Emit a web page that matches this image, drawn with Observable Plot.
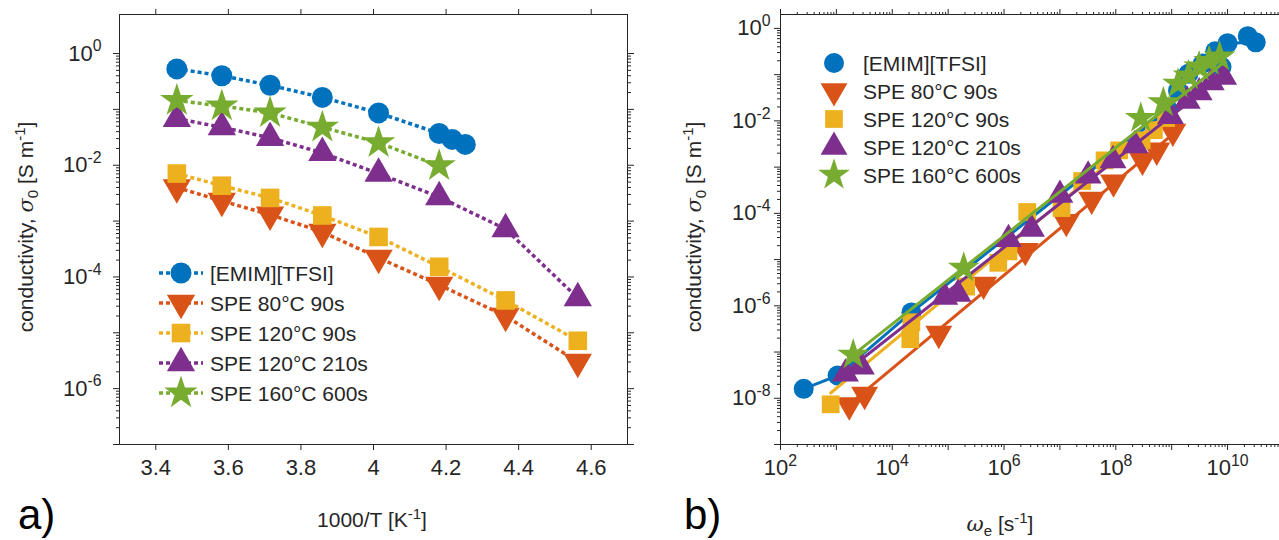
<!DOCTYPE html>
<html><head><meta charset="utf-8">
<script src="https://cdn.jsdelivr.net/npm/d3@7"></script>
<script src="https://cdn.jsdelivr.net/npm/@observablehq/plot@0.6"></script>
<style>
html,body{margin:0;padding:0;background:#fff;}
#wrap{position:relative;width:1279px;height:540px;overflow:hidden;background:#fff;}
#wrap > svg{position:absolute;top:0;}
</style></head><body><div id="wrap"></div>
<script>
// ---------------- data ----------------
const seriesNames = ["[EMIM][TFSI]", "SPE 80°C 90s", "SPE 120°C 90s", "SPE 120°C 210s", "SPE 160°C 600s"];
const seriesColors = ["#0072BD", "#D95319", "#EDB120", "#7E2F8E", "#77AC30"];

// Panel a: conductivity vs 1000/T
const aInvT_EMIM = [3.458, 3.582, 3.715, 3.859, 4.014, 4.181, 4.217, 4.253];
const aSigma_EMIM = [0.53, 0.40, 0.27, 0.164, 0.0865, 0.037, 0.029, 0.0236];
const aInvT_SPE = [3.458, 3.582, 3.715, 3.859, 4.014, 4.181, 4.364, 4.563];
const aSigma_SPE80_90 = [0.0040, 0.0023, 0.0013, 0.00064, 0.00022, 7.2e-5, 2.0e-5, 3.0e-6];
const aSigma_SPE120_90 = [0.0071, 0.0043, 0.0026, 0.00126, 0.00052, 0.000152, 3.8e-5, 7.2e-6];
const aSigma_SPE120_210 = [0.068, 0.048, 0.031, 0.0166, 0.0071, 0.0027, 0.00072, 4.2e-5];
const aSigma_SPE160_600 = [0.144, 0.115, 0.0865, 0.048, 0.0253, 0.0098];

// Panel b: conductivity vs omega_e
const bOmega_EMIM = [2.6e2, 1.05e3, 2.2e4, 8.7e8, 1.3e9, 2.0e9, 7.8e9, 3.6e9, 6.0e9, 1.0e10, 3.2e10, 2.3e10];
const bSigma_EMIM = [1.6e-8, 3.1e-8, 7.2e-7, 0.0174, 0.045, 0.105, 0.148, 0.174, 0.32, 0.48, 0.50, 0.68];
const bOmega_SPE80_90 = [1.7e3, 3.2e3, 6.8e4, 4.3e5, 2.4e6, 1.3e7, 3.7e7, 9.1e7, 3.0e8, 5.4e8, 1.05e9];
const bSigma_SPE80_90 = [7.1e-9, 1.2e-8, 2.5e-7, 2.9e-6, 1.55e-5, 6.6e-5, 2.0e-4, 4.7e-4, 1.4e-3, 2.3e-3, 5.9e-3];
const bOmega_SPE120_90 = [7.9e2, 2.1e4, 2.2e4, 2.1e5, 7.9e5, 1.2e6, 2.6e6, 1.07e7, 2.5e7, 6.3e7, 1.15e8, 2.9e8, 4.8e8, 7.9e8];
const bSigma_SPE120_90 = [7.4e-9, 1.9e-7, 4.4e-7, 2.6e-6, 8.5e-6, 1.5e-5, 1.07e-4, 1.3e-4, 5.0e-4, 1.4e-3, 2.3e-3, 3.8e-3, 6.3e-3, 1.15e-2];
const bOmega_SPE120_210 = [1.45e3, 2.8e3, 8.7e4, 1.5e5, 1.2e6, 3.1e6, 1.0e7, 3.2e7, 8.9e7, 2.2e8, 9.5e8, 1.9e9, 3.1e9, 5.1e9, 8.5e9];
const bSigma_SPE120_210 = [3.4e-8, 4.8e-8, 1.55e-6, 1.8e-6, 2.75e-5, 4.6e-5, 2.5e-4, 6.5e-4, 1.4e-3, 2.95e-3, 1.26e-2, 2.7e-2, 4.1e-2, 6.8e-2, 8.9e-2];
const bOmega_SPE160_600 = [2.0e3, 1.9e5, 2.8e8, 7.1e8, 1.3e9, 2.0e9, 3.1e9, 4.7e9, 7.2e9];
const bSigma_SPE160_600 = [8.7e-8, 6.6e-6, 1.15e-2, 2.5e-2, 6.3e-2, 9.5e-2, 0.148, 0.195, 0.245];
// power-law fit lines (end points)
const bFitOmega_SPE80_90 = [1.7e3, 1.6e9];    const bFitSigma_SPE80_90 = [7.4e-9, 7.9e-3];
const bFitOmega_SPE120_90 = [7.9e2, 8.0e8];   const bFitSigma_SPE120_90 = [1.3e-8, 1.35e-2];
const bFitOmega_SPE120_210 = [1.45e3, 9.1e9]; const bFitSigma_SPE120_210 = [3.7e-8, 0.105];
const bFitOmega_SPE160_600 = [2.0e3, 8.9e9];  const bFitSigma_SPE160_600 = [8.7e-8, 0.19];

// ticks
const aXTicks = [3.4, 3.6, 3.8, 4.0, 4.2, 4.4, 4.6];
const aYTicks = [1e-7, 1e-6, 1e-5, 1e-4, 1e-3, 1e-2, 1e-1, 1];
const aYLabelExps = [0, -2, -4, -6];
const bXTicks = [1e2, 1e3, 1e4, 1e5, 1e6, 1e7, 1e8, 1e9, 1e10];
const bXLabelExps = [2, 4, 6, 8, 10];
const bYTicks = [1e-9, 1e-8, 1e-7, 1e-6, 1e-5, 1e-4, 1e-3, 1e-2, 1e-1, 1];
const bYLabelExps = [0, -2, -4, -6, -8];

// ---------------- helpers ----------------
const FONT = "'Liberation Sans', Arial, Helvetica, sans-serif";
const INK = "#262626";
const FS = 22;
const triangleDown = {
  draw(ctx, size) {
    const y = -Math.sqrt(size / (Math.sqrt(3) * 3));
    ctx.moveTo(0, -y * 2);
    ctx.lineTo(-Math.sqrt(3) * y, y);
    ctx.lineTo(Math.sqrt(3) * y, y);
    ctx.closePath();
  }
};
const seriesSymbols = [d3.symbolCircle, triangleDown, d3.symbolSquare, d3.symbolTriangle, d3.symbolStar];
const rows = (xs, ys) => xs.map((x, i) => ({x, y: ys[i]}));
const minorTicks = (majors) => majors.slice(0, -1).flatMap(m => [2,3,4,5,6,7,8,9].map(k => k * m));
const expFormat = (exps) => d => { const e = Math.round(Math.log10(d)); return exps.includes(e) ? `10^${e}` : ""; };

function superscriptTicks(svg) {
  const NS = "http://www.w3.org/2000/svg";
  svg.querySelectorAll("text").forEach(t => {
    const m = /^10\^(-?\d+)$/.exec(t.textContent.trim());
    if (!m) return;
    t.textContent = "";
    const a = document.createElementNS(NS, "tspan"); a.textContent = "10"; t.appendChild(a);
    const b = document.createElementNS(NS, "tspan"); b.textContent = m[1];
    b.setAttribute("dy", -0.42 * FS); b.setAttribute("font-size", 0.72 * FS); t.appendChild(b);
  });
}
function addSvg(svg, html) { svg.insertAdjacentHTML("beforeend", html); }

function legend(svg, x0, y0, dy, r, withLine) {
  let s = `<g font-family="${FONT}" font-size="21" fill="${INK}" text-anchor="start">`;
  seriesNames.forEach((name, i) => {
    const y = y0 + i * dy;
    if (withLine) s += `<line x1="${x0 - 22}" x2="${x0 + 22}" y1="${y}" y2="${y}" stroke="${seriesColors[i]}" stroke-width="3.5" stroke-dasharray="4,3"/>`;
    const p = d3.symbol().type(seriesSymbols[i]).size(Math.PI * r * r)();
    s += `<path transform="translate(${x0},${y})" d="${p}" fill="${seriesColors[i]}"/>`;
    s += `<text x="${x0 + 29}" y="${y}" dy="0.36em">${name}</text>`;
  });
  s += `</g>`;
  addSvg(svg, s);
}

const wrap = document.getElementById("wrap");

// ---------------- panel a ----------------
const aData = [
  rows(aInvT_EMIM, aSigma_EMIM),
  rows(aInvT_SPE, aSigma_SPE80_90),
  rows(aInvT_SPE, aSigma_SPE120_90),
  rows(aInvT_SPE, aSigma_SPE120_210),
  rows(aInvT_SPE.slice(0, aSigma_SPE160_600.length), aSigma_SPE160_600)
];
const RA = 10.5;
const plotA = Plot.plot({
  width: 640, height: 540,
  marginLeft: 119, marginRight: 13, marginTop: 14, marginBottom: 96,
  style: {fontFamily: FONT, fontSize: FS + "px", color: INK, background: "transparent"},
  x: {domain: [3.3, 4.7], label: null},
  y: {type: "log", domain: [1e-7, 5], label: null},
  marks: [
    Plot.frame({stroke: INK, strokeWidth: 1}),
    Plot.axisX({anchor: "bottom", ticks: aXTicks, tickSize: 6, tickPadding: 9, tickFormat: d => String(+d.toFixed(1)), label: null}),
    Plot.axisX({anchor: "top", ticks: aXTicks, tickSize: 6, tickFormat: () => "", label: null}),
    Plot.axisY({anchor: "left", ticks: aYTicks, tickSize: 6, tickPadding: 12, tickFormat: expFormat(aYLabelExps), label: null}),
    Plot.axisY({anchor: "left", ticks: minorTicks(aYTicks), tickSize: 3, tickFormat: () => "", label: null}),
    Plot.axisY({anchor: "right", ticks: aYTicks, tickSize: 6, tickFormat: () => "", label: null}),
    Plot.axisY({anchor: "right", ticks: minorTicks(aYTicks), tickSize: 3, tickFormat: () => "", label: null}),
    ...aData.flatMap((d, i) => [
      Plot.line(d, {x: "x", y: "y", stroke: seriesColors[i], strokeWidth: 3.5, strokeDasharray: "4,3", strokeLinecap: "butt"}),
      Plot.dot(d, {x: "x", y: "y", symbol: seriesSymbols[i], fill: seriesColors[i], r: RA})
    ])
  ]
});
plotA.style.left = "0px";
wrap.appendChild(plotA);
superscriptTicks(plotA);
legend(plotA, 181, 273, 30, RA, true);
addSvg(plotA, `<text transform="translate(33,227) rotate(-90)" text-anchor="middle" font-family="${FONT}" font-size="21" fill="${INK}">conductivity, <tspan font-style="italic" font-family="DejaVu Serif">σ</tspan><tspan dy="5" font-size="15">0</tspan><tspan dy="-5"> [S m</tspan><tspan dy="-8" font-size="15">-1</tspan><tspan dy="8">]</tspan></text>`);
addSvg(plotA, `<text x="372" y="527" text-anchor="middle" font-family="${FONT}" font-size="21" fill="${INK}">1000/T [K<tspan dy="-8" font-size="15">-1</tspan><tspan dy="8">]</tspan></text>`);
addSvg(plotA, `<text x="18" y="529" text-anchor="start" font-family="${FONT}" font-size="42" fill="#000">a)</text>`);

// ---------------- panel b ----------------
const bData = [
  rows(bOmega_EMIM, bSigma_EMIM),
  rows(bOmega_SPE80_90, bSigma_SPE80_90),
  rows(bOmega_SPE120_90, bSigma_SPE120_90),
  rows(bOmega_SPE120_210, bSigma_SPE120_210),
  rows(bOmega_SPE160_600, bSigma_SPE160_600)
];
const bFits = [
  null,
  rows(bFitOmega_SPE80_90, bFitSigma_SPE80_90),
  rows(bFitOmega_SPE120_90, bFitSigma_SPE120_90),
  rows(bFitOmega_SPE120_210, bFitSigma_SPE120_210),
  rows(bFitOmega_SPE160_600, bFitSigma_SPE160_600)
];
const RB = 10;
const bXDomain = [1e2, 8.5e10];
const bYDomain = [1e-9, 2];
const bMinorX = minorTicks(bXTicks.concat([1e11])).filter(v => v <= bXDomain[1]);
const plotB = Plot.plot({
  width: 639, height: 540,
  marginLeft: 140, marginRight: 0, marginTop: 14, marginBottom: 96,
  style: {fontFamily: FONT, fontSize: FS + "px", color: INK, background: "transparent"},
  x: {type: "log", domain: bXDomain, label: null},
  y: {type: "log", domain: bYDomain, label: null},
  marks: [
    Plot.ruleX([bXDomain[0]], {stroke: INK}),
    Plot.ruleY(bYDomain, {stroke: INK}),
    Plot.axisX({anchor: "bottom", ticks: bXTicks, tickSize: 6, tickPadding: 9, tickFormat: expFormat(bXLabelExps), label: null}),
    Plot.axisX({anchor: "bottom", ticks: bMinorX, tickSize: 3, tickFormat: () => "", label: null}),
    Plot.axisX({anchor: "top", ticks: bXTicks, tickSize: 6, tickFormat: () => "", label: null}),
    Plot.axisX({anchor: "top", ticks: bMinorX, tickSize: 3, tickFormat: () => "", label: null}),
    Plot.axisY({anchor: "left", ticks: bYTicks, tickSize: 6, tickPadding: 4, tickFormat: expFormat(bYLabelExps), label: null}),
    Plot.axisY({anchor: "left", ticks: minorTicks(bYTicks), tickSize: 3, tickFormat: () => "", label: null}),
    ...bData.flatMap((d, i) => [
      Plot.line(i === 0 ? d : bFits[i], {x: "x", y: "y", stroke: seriesColors[i], strokeWidth: 3}),
      Plot.dot(d, {x: "x", y: "y", symbol: seriesSymbols[i], fill: seriesColors[i], r: RB})
    ])
  ]
});
plotB.style.left = "640px";
wrap.appendChild(plotB);
superscriptTicks(plotB);
legend(plotB, 194, 63, 28, RB, false);
addSvg(plotB, `<text transform="translate(61,227) rotate(-90)" text-anchor="middle" font-family="${FONT}" font-size="21" fill="${INK}">conductivity, <tspan font-style="italic" font-family="DejaVu Serif">σ</tspan><tspan dy="5" font-size="15">0</tspan><tspan dy="-5"> [S m</tspan><tspan dy="-8" font-size="15">-1</tspan><tspan dy="8">]</tspan></text>`);
addSvg(plotB, `<text x="360" y="531" text-anchor="middle" font-family="${FONT}" font-size="21" fill="${INK}"><tspan font-style="italic" font-family="DejaVu Serif">ω</tspan><tspan dy="5" font-size="15">e</tspan><tspan dy="-5"> [s</tspan><tspan dy="-8" font-size="15">-1</tspan><tspan dy="8">]</tspan></text>`);
addSvg(plotB, `<text x="44" y="529" text-anchor="start" font-family="${FONT}" font-size="42" fill="#000">b)</text>`);
</script></body></html>
